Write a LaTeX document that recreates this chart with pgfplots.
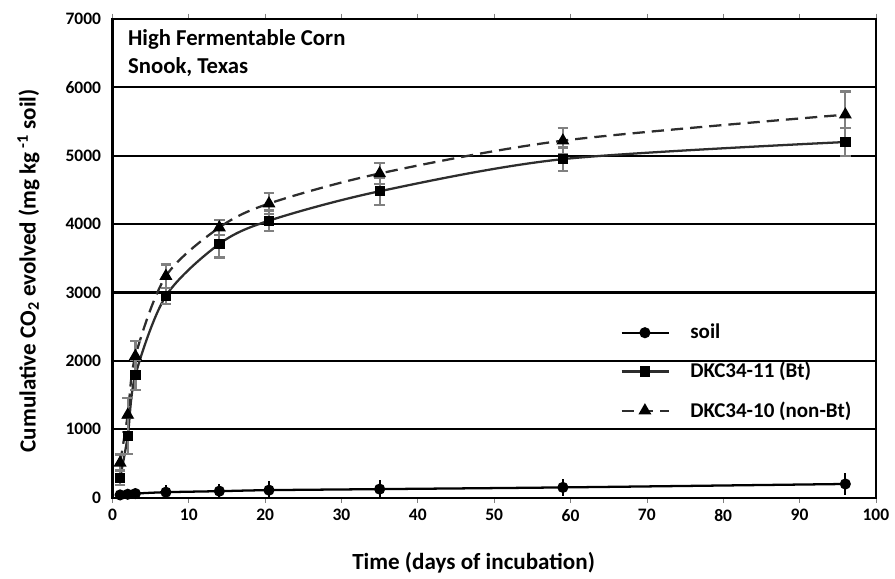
\documentclass[border=0pt]{standalone}
\usepackage{pgfplots}
\usepackage{pgfplotstable}
\pgfplotsset{compat=1.18}
\usepackage{fontspec}
\setmainfont{Carlito}

% days, mean, error
\pgfplotstableread{
x y e
1 40 40
2 50 50
3 60 60
7 80 110
14 95 100
20.5 110 130
35 125 140
59 150 130
96 200 160
}\soil
\pgfplotstableread{
x y e
1 290 110
2 900 260
3 1790 220
7 2950 120
14 3710 200
20.5 4050 150
35 4480 200
59 4950 170
96 5200 200
}\bt
\pgfplotstableread{
x y e
1 510 120
2 1210 250
3 2070 220
7 3240 170
14 3950 110
20.5 4300 150
35 4740 150
59 5220 190
96 5600 340
}\nonbt

\definecolor{errgray}{RGB}{128,128,128}
\definecolor{linegray}{RGB}{45,45,45}

\begin{document}
\begin{tikzpicture}
\path (-2.26cm,-1.48cm) rectangle (15.64cm,10.0cm);
\begin{axis}[
  width=15.34cm, height=9.62cm, scale only axis,
  xmin=0, xmax=100, ymin=0, ymax=7000,
  xtick={0,10,...,100}, ytick={0,1000,...,7000},
  ymajorgrids, grid style={black, line width=1.2pt},
  axis line style={black, line width=1.2pt},
  xtick style={errgray, thin}, tick align=outside, major tick length=3pt,
  ytick style={draw=none},
  ticklabel style={font=\fontsize{10}{12}\selectfont\bfseries, text=black},
  /pgf/number format/assume math mode=true,
  /pgf/number format/1000 sep={},
  xlabel={Time (days of incubation)},
  ylabel={Cumulative CO\textsubscript{2} evolved (mg kg\textsuperscript{ -1} soil)},
  label style={font=\fontsize{13.2}{15}\selectfont\bfseries},
  xlabel style={at={(axis description cs:0.473,-0.136)}, anchor=center},
  ylabel style={at={(axis description cs:-0.110,0.474)}, anchor=center},
  legend style={draw=none, fill=none, at={(axis description cs:0.658,0.378)}, anchor=north west,
    font=\fontsize{12}{14}\selectfont\bfseries, row sep=8pt, column sep=0.35cm},
  legend cell align=left,
  legend image code/.code={
    \draw[mark repeat=2, mark phase=2] plot coordinates {(0cm,0cm) (0.47cm,0cm) (0.94cm,0cm)};},
  every axis plot/.append style={line width=1.3pt, linegray},
  error bars/y dir=both, error bars/y explicit,
]
\addplot[mark=*, mark size=2.5pt, black, smooth,
  error bars/.cd, error bar style={black, line width=1.2pt}, error mark=none]
  table[x=x, y=y, y error=e] {\soil};
\addlegendentry{soil}
\addplot[mark=square*, mark size=2.3pt, mark options={solid, black}, smooth,
  error bars/.cd, error bar style={errgray, line width=1.3pt},
  error mark options={rotate=90, mark size=3pt, errgray, line width=1.3pt}]
  table[x=x, y=y, y error=e] {\bt};
\addlegendentry{DKC34-11 (Bt)}
\addplot[mark=triangle*, mark size=3pt, mark options={solid, black}, smooth,
  dash pattern=on 7pt off 4pt,
  error bars/.cd, error bar style={errgray, line width=1.3pt, solid},
  error mark options={rotate=90, mark size=3pt, errgray, line width=1.3pt, solid}]
  table[x=x, y=y, y error=e] {\nonbt};
\addlegendentry{DKC34-10 (non-Bt)}
\node[anchor=north west, align=left, font=\fontsize{13}{16}\selectfont\bfseries, inner sep=0pt]
  at (axis cs:2,6850) {High Fermentable Corn\\Snook, Texas};
\end{axis}
\end{tikzpicture}
\end{document}
